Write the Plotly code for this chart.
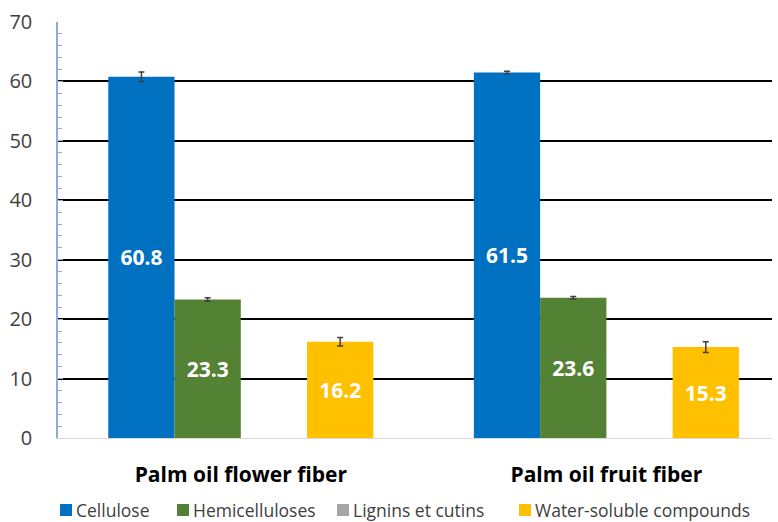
import plotly.graph_objects as go

# Fiber composition (%) for two palm oil fibers
fibers = ["Palm oil flower fiber", "Palm oil fruit fiber"]
components = ["Cellulose", "Hemicelluloses", "Lignins et cutins", "Water-soluble compounds"]
cellulose = [60.8, 61.5]
hemicelluloses = [23.3, 23.6]
lignins = [None, None]
water_soluble = [16.2, 15.3]
cellulose_err = [0.8, 0.2]
hemicelluloses_err = [0.3, 0.2]
water_soluble_err = [0.7, 0.9]
y_ticks = [0, 10, 20, 30, 40, 50, 60, 70]

colors = ["#0070C0", "#548235", "#A5A5A5", "#FFC000"]
series = [cellulose, hemicelluloses, lignins, water_soluble]
errors = [cellulose_err, hemicelluloses_err, None, water_soluble_err]

FONT = "Open Sans"
W, H = 778, 522
M_L, M_R, M_T, M_B = 58, 6, 22, 84

fig = go.Figure()
for name, vals, err, col in zip(components, series, errors, colors):
    texts = [f"{v:.1f}" if v is not None else "" for v in vals]
    fig.add_trace(go.Bar(
        name=name,
        x=fibers,
        y=vals,
        showlegend=False,
        marker=dict(color=col, line=dict(width=0)),
        text=texts,
        textposition="inside",
        insidetextanchor="middle",
        textangle=0,
        textfont=dict(family=FONT, size=21, color="white", weight="bold"),
        error_y=dict(type="data", array=err, visible=err is not None,
                     color="#404040", thickness=1.5, width=3),
    ))


# Legend row under the axis: a small square key followed by each series name
def px_x(px):
    return (px - M_L) / (W - M_L - M_R)


def px_y(py):
    return (H - M_B - py) / (H - M_T - M_B)


legend_keys_px = [60, 177, 337, 519]
key_size = 12
legend_mid_px = 510
for name, col, kx in zip(components, colors, legend_keys_px):
    fig.add_shape(
        type="rect", xref="paper", yref="paper",
        x0=px_x(kx), x1=px_x(kx + key_size),
        y0=px_y(legend_mid_px + key_size / 2), y1=px_y(legend_mid_px - key_size / 2),
        fillcolor=col, line=dict(width=0),
    )
    fig.add_annotation(
        text=name,
        xref="paper", yref="paper",
        x=px_x(kx + key_size + 3), y=px_y(legend_mid_px),
        xanchor="left", yanchor="middle",
        showarrow=False,
        borderpad=0,
        font=dict(family=FONT, size=17.5, color="#404040"),
    )

fig.update_layout(
    width=W, height=H,
    margin=dict(l=M_L, r=M_R, t=M_T, b=M_B, autoexpand=False),
    paper_bgcolor="white",
    plot_bgcolor="white",
    barmode="group",
    bargap=0.275,
    bargroupgap=0,
    font=dict(family=FONT, color="#404040"),
    showlegend=False,
    xaxis=dict(
        range=[-0.5, 1.453],
        showgrid=False,
        showline=True,
        linecolor="#D9D9D9",
        linewidth=1,
        ticks="",
        tickfont=dict(family=FONT, size=21, color="black", weight="bold"),
        ticklabelstandoff=18,
    ),
    yaxis=dict(
        range=[0, 70],
        tickvals=y_ticks,
        showgrid=True,
        gridcolor="black",
        gridwidth=1.8,
        zeroline=False,
        showline=True,
        linecolor="#8FAADC",
        linewidth=1.5,
        ticks="inside",
        ticklen=5,
        tickcolor="#8FAADC",
        minor=dict(dtick=2, ticks="inside", ticklen=4, tickcolor="#8FAADC", showgrid=False),
        tickfont=dict(family=FONT, size=20, color="#404040"),
        ticklabelstandoff=20,
    ),
)

fig.write_html("out.html")
